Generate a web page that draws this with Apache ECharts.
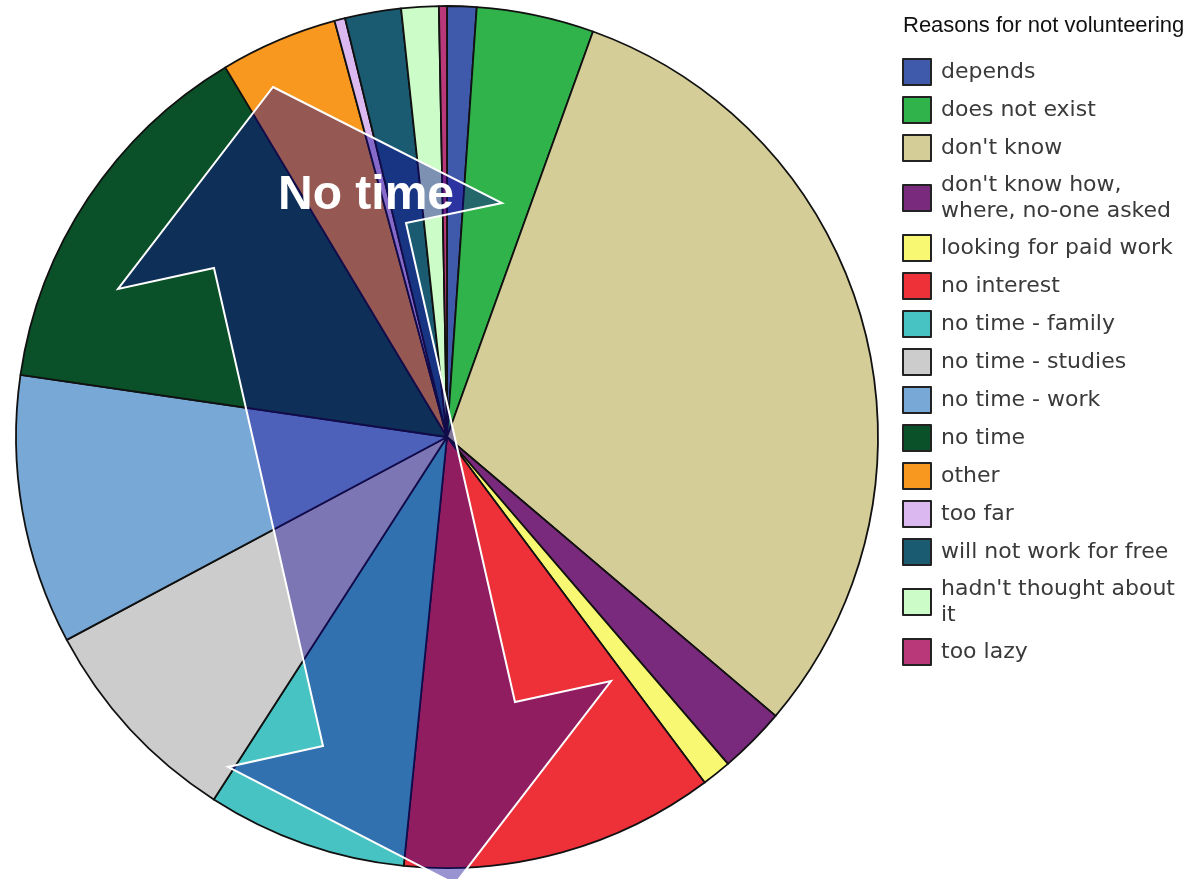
<!DOCTYPE html>
<html>
<head>
<meta charset="utf-8">
<script src="https://cdn.jsdelivr.net/npm/echarts@6/dist/echarts.min.js"></script>
<style>
html,body{margin:0;padding:0;background:#fff;}
#chart{width:1191px;height:879px;}
</style>
</head>
<body>
<div id="chart"></div>
<script>
// ---- data ----
const categories = [
  "depends", "does not exist", "don't know", "don't know how, where, no-one asked",
  "looking for paid work", "no interest", "no time - family", "no time - studies",
  "no time - work", "no time", "other", "too far", "will not work for free",
  "hadn't thought about it", "too lazy"
];
const values = [1.1, 4.4, 30.7, 2.5, 1.1, 11.8, 7.5, 8.1, 10.1, 14.1, 4.4, 0.4, 2.1, 1.4, 0.3];
const colors = [
  "#3f59ab", "#30b34a", "#d4cd98", "#7a2a7c", "#f8f872", "#ee3038", "#48c3c4", "#cccccc",
  "#78a8d6", "#0a5028", "#f8981f", "#dcb8f0", "#1a5b72", "#ccfcc8", "#b8387a"
];
const legendTitle = "Reasons for not volunteering";
const annotationText = "No time";
// annotation arrow outline (pixel positions on the page)
const arrowOutline = [
  [273, 87], [502, 203], [406, 223], [515, 702], [611, 681], [455, 884],
  [228, 767], [323, 746], [214, 268], [118, 289]
];

const chart = echarts.init(document.getElementById('chart'), null, {renderer: 'canvas'});
chart.setOption({
  animation: false,
  backgroundColor: '#ffffff',
  title: {
    text: legendTitle,
    left: 898,
    top: 10,
    textStyle: {fontFamily: 'Liberation Sans, Arial, sans-serif', fontSize: 22, fontWeight: 'normal', color: '#111'}
  },
  legend: {
    orient: 'vertical',
    left: 897,
    top: 53,
    itemWidth: 28,
    itemHeight: 26,
    itemGap: 10,
    icon: 'rect',
    data: categories,
    itemStyle: {borderColor: '#222', borderWidth: 2},
    textStyle: {
      fontFamily: 'DejaVu Sans, Verdana, sans-serif',
      fontSize: 22,
      color: '#3a3a3a',
      lineHeight: 26,
      width: 245,
      overflow: 'break',
      padding: [0, 0, 0, 5]
    }
  },
  series: [{
    type: 'pie',
    center: [447, 437],
    radius: 431,
    startAngle: 90,
    clockwise: true,
    label: {show: false},
    labelLine: {show: false},
    emphasis: {disabled: true},
    itemStyle: {borderColor: '#111', borderWidth: 1.8},
    data: categories.map((c, i) => ({name: c, value: values[i], itemStyle: {color: colors[i]}}))
  }],
  graphic: [
    {
      type: 'polygon',
      z: 100,
      shape: {points: arrowOutline},
      style: {fill: 'rgba(20,5,150,0.43)', stroke: '#ffffff', lineWidth: 2}
    },
    {
      type: 'text',
      z: 101,
      x: 278,
      y: 196,
      style: {
        text: annotationText,
        fill: '#ffffff',
        font: 'bold 48px "Liberation Sans", Arial, sans-serif',
        verticalAlign: 'middle',
        align: 'left'
      }
    }
  ]
});
</script>
</body>
</html>
